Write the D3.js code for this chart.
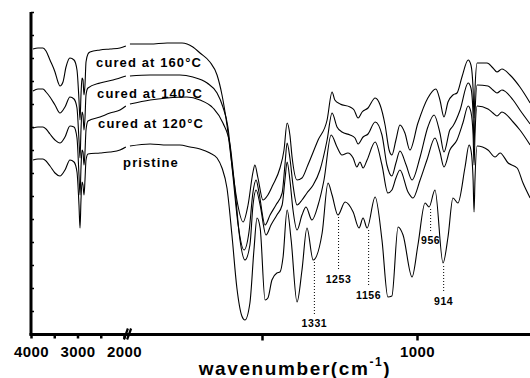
<!DOCTYPE html>
<html><head><meta charset="utf-8">
<script src="https://cdn.jsdelivr.net/npm/d3@7"></script>
<style>
body{margin:0;background:#fff}
svg{display:block}
text{font-family:"Liberation Sans",Arial,sans-serif;font-weight:bold;fill:#000}
</style>
</head><body><svg id="c" width="530" height="378"></svg>
<script>
// series names
const seriesNames = ["cured at 160°C", "cured at 140°C", "cured at 120°C", "pristine"];
// spectra: [wavenumber (cm-1), signal (a.u.)]
const cured160 = [[3957,285],[3850,286],[3742,286],[3677,283],[3592,274],[3484,262],[3420,252],[3377,248],[3312,252],[3247,267],[3162,276],[3075,274],[3011,264],[2968,234],[2946,214],[2925,239],[2903,256],[2882,254],[2860,239],[2839,249],[2817,272],[2775,280],[2731,282],[2516,284],[2301,285],[2086,286],[1960,288],
[1926,290],[1861,290],[1806,291],[1758,291],[1723,287],[1700,281],[1668,272],[1645,259],[1629,239],[1613,209],[1597,169],[1581,134],[1561,112],[1545,129],[1529,162],[1523,169],[1513,156],[1497,134],[1481,139],[1465,149],[1442,166],[1429,184],[1419,211],[1410,199],[1403,177],[1387,154],[1371,156],[1352,169],[1319,194],[1290,214],[1274,242],[1265,234],[1248,230],[1216,227],[1203,224],[1190,216],[1177,222],[1158,226],[1135,236],[1119,229],[1103,209],[1090,184],[1081,179],[1068,194],[1055,209],[1039,201],[1023,184],[997,211],[965,236],[939,245],[926,234],[913,217],[900,232],[884,239],[871,241],[855,257],[835,274],[826,269],[819,244],[816,216],[813,244],[806,271],[774,271],[755,266],[742,262],[726,265],[700,259],[668,247],[635,231]];
const cured140 = [[3957,243],[3850,245],[3742,245],[3677,242],[3592,237],[3484,229],[3377,221],[3269,227],[3162,237],[3075,235],[3011,226],[2968,194],[2946,176],[2925,204],[2903,222],[2882,219],[2860,204],[2839,216],[2817,239],[2775,246],[2516,251],[2237,254],[1960,258],
[1926,258],[1861,259],[1806,259],[1765,259],[1723,257],[1677,251],[1645,241],[1626,227],[1610,207],[1594,159],[1577,109],[1558,84],[1542,102],[1529,142],[1519,154],[1510,142],[1490,109],[1474,119],[1455,129],[1435,141],[1426,169],[1419,191],[1410,176],[1400,149],[1387,129],[1371,134],[1355,141],[1335,149],[1313,164],[1290,194],[1274,221],[1258,207],[1242,202],[1216,199],[1200,196],[1190,190],[1174,197],[1158,200],[1135,212],[1113,199],[1097,169],[1081,158],[1068,171],[1055,183],[1035,169],[1016,154],[990,177],[965,207],[945,219],[926,201],[913,182],[894,204],[884,208],[861,224],[835,251],[826,246],[819,219],[816,189],[813,219],[806,249],[771,248],[755,244],[742,241],[726,244],[690,234],[668,224],[635,210]];
const cured120 = [[3957,206],[3850,207],[3742,207],[3677,205],[3592,200],[3484,194],[3377,191],[3269,197],[3162,208],[3075,207],[3011,196],[2968,159],[2946,139],[2925,166],[2903,184],[2882,182],[2860,169],[2839,182],[2817,204],[2775,213],[2516,217],[2301,221],[2086,224],[1960,228],
[1926,230],[1861,234],[1806,236],[1742,237],[1700,234],[1658,226],[1626,211],[1603,189],[1587,144],[1571,94],[1555,74],[1539,89],[1529,129],[1519,144],[1506,129],[1487,99],[1471,109],[1452,119],[1435,129],[1426,154],[1419,172],[1410,154],[1400,124],[1387,104],[1371,119],[1358,127],[1339,114],[1319,129],[1300,154],[1277,199],[1258,187],[1242,179],[1223,181],[1206,176],[1194,167],[1184,172],[1174,166],[1161,174],[1135,192],[1113,169],[1094,141],[1081,144],[1068,156],[1055,164],[1029,142],[1013,136],[990,154],[968,174],[942,196],[926,182],[913,167],[894,184],[871,194],[852,211],[835,228],[826,222],[819,199],[816,169],[813,199],[806,228],[771,225],[755,221],[742,218],[726,222],[690,212],[668,204],[635,189]];
const pristine = [[3957,174],[3850,175],[3742,175],[3677,173],[3592,168],[3484,161],[3377,158],[3269,164],[3162,174],[3075,172],[3011,162],[2968,129],[2946,106],[2925,134],[2903,152],[2882,149],[2860,139],[2839,154],[2817,174],[2775,180],[2516,181],[2301,182],[2086,184],[1960,187],
[1926,188],[1861,190],[1806,189],[1765,189],[1732,187],[1700,185],[1668,181],[1645,176],[1629,166],[1613,146],[1597,99],[1581,46],[1565,18],[1555,14],[1539,31],[1526,84],[1516,116],[1506,106],[1490,34],[1481,36],[1468,54],[1452,61],[1442,62],[1432,77],[1419,124],[1406,94],[1387,32],[1371,64],[1355,106],[1335,74],[1306,101],[1287,151],[1274,139],[1255,119],[1232,132],[1206,122],[1187,106],[1174,116],[1161,106],[1135,137],[1113,94],[1094,37],[1081,38],[1061,107],[1045,99],[1016,57],[997,89],[974,131],[961,127],[942,144],[916,71],[900,97],[884,136],[868,131],[845,167],[832,189],[826,184],[819,154],[816,122],[813,154],[806,188],[771,184],[748,177],[732,181],[706,171],[677,166],[658,151],[635,136]];

// axis ticks
const xTicksLeft = [4000, 3500, 3000, 2500, 2000];
const xTickLabelsLeft = ["4000", "", "3000", "", "2000"];
const xTicksRight = [1500, 1000];
const xTickLabelsRight = ["", "1000"];
const yTicks = d3.range(0, 323, 23);

// peak annotations
const peakWn = [1331, 1253, 1156, 956, 914];
const peakLabels = ["1331", "1253", "1156", "956", "914"];
const peakLineTop = [72, 117, 104, 125, 68];
const peakLineBottom = [20, 64, 48, 101, 41];
const peakLabelLevel = [7, 51, 35, 90, 29];

const svg = d3.select("#c");
const xL = d3.scaleLinear().domain([4000, 1950]).range([31, 31 + 2050 * 0.0465]);
const xR = d3.scaleLinear().domain([1500, 1000]).range([262, 417]);
const y = d3.scaleLinear().domain([0, 322]).range([334, 12]);
const xAny = wn => wn >= 1945 ? xL(wn) : xR(wn);

const allSeries = [cured160, cured140, cured120, pristine];
const line = d3.line().x(d => xAny(d[0])).y(d => y(d[1])).curve(d3.curveMonotoneX);

svg.append("defs").append("clipPath").attr("id", "clip")
  .append("rect").attr("x", 0).attr("y", 0).attr("width", 530).attr("height", 340);

const g = svg.append("g").attr("clip-path", "url(#clip)");
allSeries.forEach(s => {
  const left = s.filter(d => d[0] >= 1945);
  const right = s.filter(d => d[0] < 1945);
  [left, right].forEach(part => {
    g.append("path").attr("d", line(part)).attr("fill", "none")
      .attr("stroke", "#000").attr("stroke-width", 1.1);
  });
});

// legend labels
const labelPos = [[149, 67], [150, 98], [151, 128], [151, 167]];
seriesNames.forEach((n, i) => {
  svg.append("text").attr("x", labelPos[i][0]).attr("y", labelPos[i][1])
    .attr("text-anchor", "middle").attr("font-size", 13).attr("letter-spacing", 1.1)
    .text(n);
});

// peak annotations
peakWn.forEach((w, i) => {
  svg.append("line").attr("x1", xR(w)).attr("x2", xR(w))
    .attr("y1", y(peakLineTop[i])).attr("y2", y(peakLineBottom[i]))
    .attr("stroke", "#000").attr("stroke-width", 1).attr("stroke-dasharray", "1,2");
  svg.append("text").attr("x", xR(w)).attr("y", y(peakLabelLevel[i]))
    .attr("text-anchor", "middle").attr("font-size", 10.5).attr("letter-spacing", 0.6)
    .text(peakLabels[i]);
});

// y axis
const yAxis = d3.axisLeft(y).tickValues(yTicks).tickSize(-3).tickFormat("");
const ya = svg.append("g").attr("transform", "translate(31,0)").call(yAxis);
ya.select(".domain").attr("stroke-width", 3).attr("d", `M0,${y(322)}V${y(0) + 1.5}`);
ya.selectAll(".tick line").attr("stroke-width", 1.5);

// x axis
const xa1 = svg.append("g").attr("transform", "translate(0,334.5)")
  .call(d3.axisBottom(xL).tickValues(xTicksLeft).tickSize(4).tickFormat((d, i) => xTickLabelsLeft[i]));
const xa2 = svg.append("g").attr("transform", "translate(0,334.5)")
  .call(d3.axisBottom(xR).tickValues(xTicksRight).tickSize(6).tickFormat((d, i) => xTickLabelsRight[i]));
[xa1, xa2].forEach(a => {
  a.select(".domain").remove();
  a.selectAll(".tick line").attr("stroke-width", 2.5);
  a.selectAll(".tick text").attr("font-size", 15).attr("letter-spacing", 0.4)
    .attr("fill", "#000").attr("y", 22).attr("dy", 0)
    .style("font-family", "'Liberation Sans',Arial,sans-serif").style("font-weight", "bold");
});
svg.append("line").attr("x1", 29.5).attr("x2", 530).attr("y1", 334.5).attr("y2", 334.5)
  .attr("stroke", "#000").attr("stroke-width", 3);
// axis break mark
const bx = (xL(1950) + xR(1930)) / 2;
[-1.6, 1.6].forEach(o => {
  svg.append("line").attr("x1", bx + o - 2).attr("y1", 339.5).attr("x2", bx + o + 2).attr("y2", 328.5)
    .attr("stroke", "#000").attr("stroke-width", 2.2);
});

// x axis title
const t = svg.append("text").attr("x", 295).attr("y", 375).attr("text-anchor", "middle")
  .attr("font-size", 19).attr("letter-spacing", 1.6);
t.append("tspan").text("wavenumber(cm");
t.append("tspan").attr("font-size", 12).attr("dy", -9).text("-1");
t.append("tspan").attr("dy", 9).text(")");
</script>
</body></html>
